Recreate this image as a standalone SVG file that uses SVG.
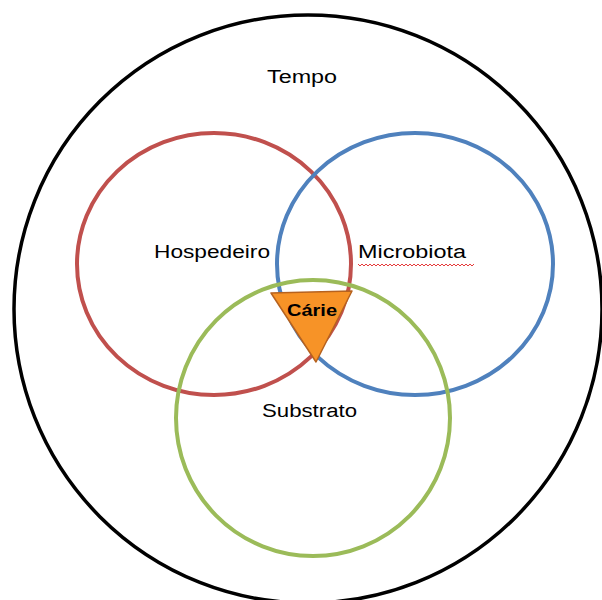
<svg xmlns="http://www.w3.org/2000/svg" width="602" height="600" viewBox="0 0 602 600">
<style>
.c{fill:none;stroke-width:4}
.t{font-family:"Liberation Sans","Open Sans",sans-serif;font-size:18px;fill:#000}
</style>
<rect width="602" height="600" fill="#fff"/>
<g id="tempo">
<circle cx="308" cy="309" r="294" fill="none" stroke="#000" stroke-width="3.5"/>
<text class="t" x="302" y="83" text-anchor="middle" textLength="70" lengthAdjust="spacingAndGlyphs">Tempo</text>
</g>
<g id="hospedeiro">
<ellipse class="c" cx="214" cy="264" rx="137" ry="131" stroke="#C0504D"/>
</g>
<g id="microbiota">
<ellipse class="c" cx="415" cy="264" rx="138" ry="131" stroke="#4F81BD"/>
</g>
<g id="substrato">
<ellipse class="c" cx="313" cy="418" rx="137" ry="138" stroke="#9BBB59"/>
</g>
<g id="labels">
<text class="t" x="154" y="258" textLength="116" lengthAdjust="spacingAndGlyphs">Hospedeiro</text>
<text class="t" x="358" y="258" textLength="108" lengthAdjust="spacingAndGlyphs">Microbiota</text>
<path d="M358 264 l2 2 l2 -2 l2 2 l2 -2 l2 2 l2 -2 l2 2 l2 -2 l2 2 l2 -2 l2 2 l2 -2 l2 2 l2 -2 l2 2 l2 -2 l2 2 l2 -2 l2 2 l2 -2 l2 2 l2 -2 l2 2 l2 -2 l2 2 l2 -2 l2 2 l2 -2 l2 2 l2 -2 l2 2 l2 -2 l2 2 l2 -2 l2 2 l2 -2 l2 2 l2 -2 l2 2 l2 -2 l2 2 l2 -2 l2 2 l2 -2 l2 2 l2 -2 l2 2 l2 -2 l2 2 l2 -2 l2 2 l2 -2 l2 2 l2 -2 l2 2 l2 -2 l2 2 l2 -2" fill="none" stroke="#E53B3B" stroke-width="1"/>
<text class="t" x="262" y="417" textLength="95" lengthAdjust="spacingAndGlyphs">Substrato</text>
</g>
<g id="carie">
<polygon points="271,293 352,291 316,362" fill="#F79327" stroke="#B6621F" stroke-width="1.5" stroke-linejoin="round"/>
<text x="312" y="316" text-anchor="middle" font-family="'Liberation Sans','Open Sans',sans-serif" font-size="17" font-weight="bold" textLength="50" lengthAdjust="spacingAndGlyphs">Cárie</text>
</g>
</svg>
